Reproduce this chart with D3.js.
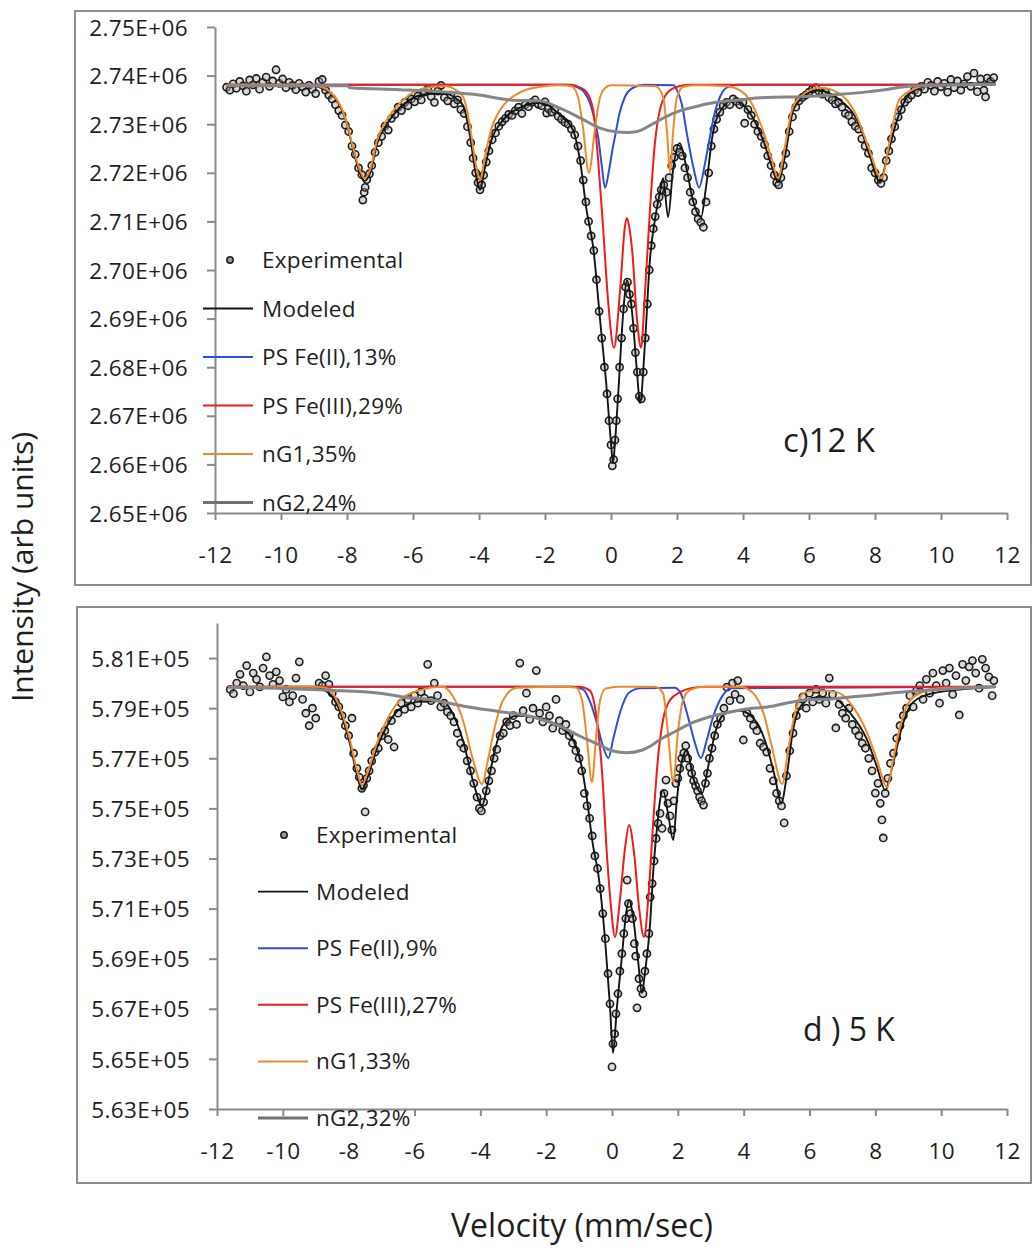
<!DOCTYPE html>
<html><head><meta charset="utf-8">
<script src="https://cdn.jsdelivr.net/npm/d3@7"></script>
<style>body{margin:0;background:#fff} text{font-family:"Open Sans",sans-serif;fill:#1e1e1e}</style>
</head><body><svg id="c" width="1033" height="1249"></svg>
<script>
// ---------- shared ----------
const velocityTicks = [-12,-10,-8,-6,-4,-2,0,2,4,6,8,10,12];
const velocityTickLabels = ["-12","-10","-8","-6","-4","-2","0","2","4","6","8","10","12"];
const seriesNames = ["Experimental","Modeled","PS Fe(II)","PS Fe(III)","nG1","nG2"];

// ---------- panel c) 12 K (intensity in units of 1E+06) ----------
const topYTicks = [2.65,2.66,2.67,2.68,2.69,2.70,2.71,2.72,2.73,2.74,2.75];
const topYTickLabels = ["2.65E+06","2.66E+06","2.67E+06","2.68E+06","2.69E+06","2.70E+06","2.71E+06","2.72E+06","2.73E+06","2.74E+06","2.75E+06"];
const topLegendLabels = ["Experimental","Modeled","PS Fe(II),13%","PS Fe(III),29%","nG1,35%","nG2,24%"];
const topTitle = "c)12 K";

const topExperimental = [
[-11.65,2.7376],[-11.55,2.7370],[-11.45,2.7383],[-11.35,2.7374],[-11.25,2.7388],[-11.15,2.7379],[-11.05,2.7368],[-10.95,2.7391],[-10.85,2.7381],[-10.75,2.7394],
[-10.65,2.7372],[-10.55,2.7386],[-10.45,2.7397],[-10.35,2.7378],[-10.25,2.7389],[-10.15,2.7412],[-10.05,2.7384],[-9.95,2.7393],[-9.85,2.7375],[-9.75,2.7386],
[-9.65,2.7380],[-9.55,2.7371],[-9.45,2.7384],[-9.35,2.7377],[-9.25,2.7366],[-9.15,2.7380],[-9.05,2.7372],[-8.95,2.7363],[-8.85,2.7388],[-8.75,2.7392],
[-8.65,2.7370],[-8.55,2.7360],[-8.45,2.7352],[-8.35,2.7340],[-8.25,2.7328],[-8.15,2.7318],[-8.05,2.7298],[-7.95,2.7285],[-7.85,2.7255],[-7.75,2.7238],
[-7.65,2.7210],[-7.55,2.7196],[-7.52,2.7144],[-7.48,2.7160],[-7.45,2.7170],[-7.4,2.7186],[-7.32,2.7198],[-7.25,2.7215],[-7.15,2.7242],[-7.05,2.7262],
[-6.95,2.7275],[-6.85,2.7296],[-6.75,2.7288],[-6.65,2.7312],[-6.55,2.7320],[-6.45,2.7335],[-6.35,2.7328],[-6.25,2.7345],[-6.15,2.7338],[-6.05,2.7352],
[-5.95,2.7346],[-5.85,2.7358],[-5.75,2.7350],[-5.65,2.7366],[-5.55,2.7372],[-5.45,2.7357],[-5.35,2.7345],[-5.25,2.7368],[-5.15,2.7380],[-5.05,2.7355],
[-4.95,2.7348],[-4.85,2.7360],[-4.75,2.7342],[-4.65,2.7350],[-4.55,2.7330],[-4.45,2.7322],[-4.35,2.7295],[-4.25,2.7262],[-4.18,2.7230],[-4.1,2.7200],
[-4.03,2.7180],[-3.97,2.7165],[-3.92,2.7175],[-3.86,2.7195],[-3.78,2.7222],[-3.7,2.7245],[-3.6,2.7268],[-3.5,2.7282],[-3.4,2.7296],[-3.3,2.7305],
[-3.2,2.7312],[-3.1,2.7320],[-3.0,2.7318],[-2.9,2.7328],[-2.8,2.7335],[-2.7,2.7322],[-2.6,2.7340],[-2.5,2.7336],[-2.4,2.7345],[-2.3,2.7350],
[-2.2,2.7341],[-2.1,2.7338],[-2.0,2.7346],[-1.95,2.7323],[-1.9,2.7332],[-1.8,2.7325],[-1.7,2.7330],[-1.6,2.7316],[-1.5,2.7310],[-1.4,2.7304],
[-1.3,2.7300],[-1.2,2.7290],[-1.1,2.7278],[-1.0,2.7255],[-0.92,2.7225],[-0.84,2.7185],[-0.76,2.7140],[-0.68,2.7100],[-0.6,2.7070],[-0.52,2.7040],
[-0.44,2.6980],[-0.36,2.6915],[-0.28,2.6860],[-0.2,2.6800],[-0.12,2.6745],[-0.06,2.6690],[0.0,2.6640],[0.04,2.6597],[0.08,2.6610],[0.12,2.6650],
[0.16,2.6690],[0.2,2.6735],[0.26,2.6800],[0.32,2.6860],[0.38,2.6920],[0.44,2.6965],[0.5,2.6975],[0.56,2.6950],[0.62,2.6930],[0.68,2.6880],
[0.74,2.6830],[0.8,2.6790],[0.86,2.6740],[0.92,2.6735],[0.98,2.6790],[1.04,2.6860],[1.1,2.6930],[1.16,2.7000],[1.22,2.7050],[1.28,2.7085],
[1.34,2.7110],[1.4,2.7135],[1.46,2.7150],[1.52,2.7165],[1.6,2.7175],[1.68,2.7160],[1.76,2.7190],[1.84,2.7215],[1.92,2.7232],[2.0,2.7250],
[2.08,2.7242],[2.16,2.7235],[2.24,2.7210],[2.32,2.7190],[2.4,2.7160],[2.48,2.7140],[2.56,2.7120],[2.64,2.7105],[2.72,2.7098],[2.8,2.7088],
[2.88,2.7140],[2.96,2.7200],[3.04,2.7255],[3.12,2.7290],[3.2,2.7310],[3.3,2.7325],[3.4,2.7338],[3.5,2.7345],[3.6,2.7340],[3.7,2.7352],
[3.8,2.7347],[3.9,2.7340],[4.0,2.7345],[4.05,2.7302],[4.15,2.7330],[4.25,2.7318],[4.35,2.7300],[4.45,2.7285],[4.55,2.7275],[4.65,2.7258],
[4.75,2.7235],[4.85,2.7215],[4.95,2.7195],[5.02,2.7180],[5.08,2.7175],[5.15,2.7190],[5.22,2.7215],[5.3,2.7240],[5.4,2.7285],[5.5,2.7315],
[5.6,2.7335],[5.7,2.7348],[5.8,2.7355],[5.9,2.7360],[6.0,2.7366],[6.1,2.7372],[6.2,2.7375],[6.3,2.7368],[6.4,2.7362],[6.5,2.7366],
[6.6,2.7355],[6.7,2.7350],[6.8,2.7342],[6.9,2.7345],[7.0,2.7335],[7.1,2.7322],[7.2,2.7318],[7.3,2.7305],[7.4,2.7296],[7.5,2.7290],
[7.6,2.7270],[7.7,2.7255],[7.8,2.7240],[7.9,2.7210],[8.0,2.7200],[8.1,2.7185],[8.18,2.7178],[8.26,2.7190],[8.34,2.7225],[8.42,2.7245],
[8.5,2.7270],[8.6,2.7295],[8.7,2.7315],[8.8,2.7330],[8.9,2.7345],[9.0,2.7352],[9.1,2.7360],[9.2,2.7370],[9.3,2.7365],[9.4,2.7378],
[9.5,2.7372],[9.6,2.7386],[9.7,2.7380],[9.8,2.7368],[9.9,2.7388],[10.0,2.7377],[10.1,2.7384],[10.2,2.7366],[10.3,2.7392],[10.4,2.7375],
[10.5,2.7389],[10.6,2.7370],[10.7,2.7383],[10.8,2.7398],[10.9,2.7378],[11.0,2.7405],[11.1,2.7367],[11.2,2.7393],[11.3,2.7370],[11.35,2.7356],
[11.4,2.7395],[11.5,2.7388],[11.6,2.7396]
];
const topModeled = [
[-11.65,2.7379],[-9.0,2.7379],[-8.8,2.7375],[-8.3,2.7348],[-8.0,2.7300],[-7.82,2.7249],[-7.61,2.7200],[-7.48,2.7183],[-7.30,2.7199],[-7.09,2.7260],
[-6.79,2.7300],[-6.3,2.7340],[-5.58,2.7362],[-5.0,2.7363],[-4.7,2.7353],[-4.48,2.7338],[-4.27,2.7275],[-4.12,2.7206],[-3.97,2.7165],[-3.82,2.7211],
[-3.61,2.7270],[-3.36,2.7301],[-2.85,2.7331],[-2.15,2.7344],[-1.55,2.7319],[-1.15,2.7288],[-0.94,2.7226],[-0.74,2.7123],[-0.54,2.7047],[-0.33,2.6897],
[-0.12,2.6747],[0.0,2.6644],[0.06,2.6603],[0.12,2.6644],[0.22,2.6747],[0.37,2.6912],[0.48,2.6979],[0.64,2.6912],[0.79,2.6788],[0.88,2.6726],
[1.03,2.6850],[1.18,2.7021],[1.33,2.7103],[1.48,2.7158],[1.58,2.7189],[1.73,2.7109],[1.88,2.7206],[2.08,2.7261],[2.28,2.7212],[2.48,2.7144],
[2.73,2.7109],[2.88,2.7171],[3.09,2.7282],[3.39,2.7335],[3.7,2.7350],[4.21,2.7323],[4.61,2.7267],[4.88,2.7212],[5.06,2.7181],[5.27,2.7233],
[5.52,2.7329],[5.82,2.7356],[6.24,2.7370],[6.94,2.7350],[7.55,2.7294],[7.85,2.7233],[8.15,2.7181],[8.39,2.7240],[8.67,2.7309],[8.97,2.7356],
[9.36,2.7375],[9.76,2.7381],[11.65,2.7385]
];
const topFe2 = [
[-11.65,2.7381],[-1.3,2.7381],[-1.0,2.7375],[-0.8,2.7365],[-0.64,2.7344],[-0.5,2.7310],[-0.39,2.7274],[-0.28,2.7215],[-0.18,2.7169],[-0.06,2.7205],
[0.05,2.7250],[0.12,2.7274],[0.25,2.7320],[0.42,2.7356],[0.67,2.7375],[1.0,2.7381],[1.9,2.7380],[2.0,2.7370],[2.15,2.7340],[2.3,2.7280],
[2.5,2.7210],[2.67,2.7170],[2.85,2.7220],[3.0,2.7275],[3.15,2.7325],[3.3,2.7356],[3.5,2.7375],[3.8,2.7381],[11.65,2.7381]
];
const topFe3 = [
[-11.65,2.7381],[-1.2,2.7381],[-0.95,2.7376],[-0.74,2.7366],[-0.54,2.7329],[-0.39,2.7226],[-0.24,2.7088],[-0.09,2.6938],[0.09,2.6840],[0.27,2.6953],
[0.42,2.7088],[0.48,2.7107],[0.56,2.7085],[0.64,2.7041],[0.79,2.6897],[0.91,2.6840],[1.03,2.6953],[1.18,2.7123],[1.33,2.7261],[1.48,2.7329],
[1.70,2.7364],[2.0,2.7377],[2.4,2.7381],[11.65,2.7381]
];
const topNG1 = [
[-11.65,2.7381],[-9.2,2.7381],[-8.8,2.7377],[-8.3,2.7350],[-8.0,2.7302],[-7.82,2.7253],[-7.61,2.7206],[-7.48,2.7189],[-7.30,2.7206],[-7.09,2.7267],
[-6.79,2.7309],[-6.3,2.7350],[-5.58,2.7375],[-5.0,2.7378],[-4.7,2.7370],[-4.48,2.7356],[-4.27,2.7294],[-4.12,2.7226],[-3.97,2.7185],[-3.82,2.7233],
[-3.61,2.7294],[-3.36,2.7329],[-2.85,2.7362],[-2.15,2.7377],[-1.5,2.7380],[-1.2,2.7378],[-1.0,2.7356],[-0.85,2.7294],[-0.67,2.7200],[-0.48,2.7294],
[-0.33,2.7356],[-0.15,2.7376],[0.0,2.7380],[1.35,2.7378],[1.58,2.7356],[1.70,2.7282],[1.79,2.7200],[1.88,2.7282],[2.0,2.7356],[2.2,2.7377],
[2.6,2.7380],[3.5,2.7378],[3.9,2.7370],[4.2,2.7350],[4.6,2.7288],[4.85,2.7233],[5.06,2.7189],[5.27,2.7253],[5.48,2.7329],[5.73,2.7356],
[6.33,2.7375],[6.9,2.7364],[7.4,2.7323],[7.8,2.7253],[8.2,2.7189],[8.45,2.7267],[8.73,2.7350],[9.12,2.7370],[9.73,2.7381],[11.65,2.7381]
];
const topNG2 = [
[-11.65,2.7379],[-8.0,2.7379],[-7.9,2.7375],[-6.4,2.7371],[-5.0,2.7366],[-4.0,2.7360],[-3.06,2.7350],[-2.15,2.7348],[-1.55,2.7333],[-0.94,2.7313],
[-0.33,2.7292],[0.18,2.7284],[0.5,2.7283],[0.79,2.7285],[1.3,2.7302],[1.9,2.7323],[2.5,2.7335],[3.1,2.7344],[3.9,2.7350],[4.7,2.7355],
[5.9,2.7357],[6.8,2.7361],[7.7,2.7366],[8.3,2.7371],[8.9,2.7377],[10.0,2.7380],[11.65,2.7383]
];

// ---------- panel d) 5 K (intensity in units of 1E+05) ----------
const botYTicks = [5.63,5.65,5.67,5.69,5.71,5.73,5.75,5.77,5.79,5.81];
const botYTickLabels = ["5.63E+05","5.65E+05","5.67E+05","5.69E+05","5.71E+05","5.73E+05","5.75E+05","5.77E+05","5.79E+05","5.81E+05"];
const botLegendLabels = ["Experimental","Modeled","PS Fe(II),9%","PS Fe(III),27%","nG1,33%","nG2,32%"];
const botTitle = "d ) 5 K";

const botExperimental = [
[-11.6,5.7975],[-11.5,5.7958],[-11.4,5.8000],[-11.3,5.8035],[-11.2,5.7990],[-11.1,5.8070],[-11.0,5.7965],[-10.9,5.8040],[-10.8,5.8015],[-10.7,5.7985],
[-10.6,5.8060],[-10.5,5.8105],[-10.4,5.8030],[-10.3,5.7995],[-10.2,5.8045],[-10.1,5.8010],[-10.0,5.7945],[-9.9,5.7975],[-9.8,5.7925],[-9.7,5.7950],
[-9.6,5.8020],[-9.5,5.8085],[-9.4,5.7935],[-9.3,5.7880],[-9.2,5.7830],[-9.1,5.7900],[-9.0,5.7860],[-8.9,5.8000],[-8.8,5.7990],[-8.7,5.8030],
[-8.6,5.7995],[-8.5,5.7960],[-8.4,5.7925],[-8.3,5.7905],[-8.2,5.7870],[-8.1,5.7830],[-8.0,5.7790],[-7.9,5.7860],[-7.85,5.7720],[-7.75,5.7660],
[-7.68,5.7625],[-7.6,5.7580],[-7.55,5.7592],[-7.5,5.7486],[-7.45,5.7620],[-7.38,5.7650],[-7.3,5.7690],[-7.2,5.7725],[-7.1,5.7740],[-7.0,5.7790],
[-6.9,5.7810],[-6.8,5.7775],[-6.7,5.7850],[-6.62,5.7745],[-6.5,5.7880],[-6.4,5.7920],[-6.3,5.7895],[-6.2,5.7935],[-6.1,5.7905],[-6.0,5.7950],
[-5.9,5.7920],[-5.8,5.7965],[-5.7,5.7940],[-5.6,5.8075],[-5.5,5.7930],[-5.4,5.8000],[-5.3,5.7950],[-5.2,5.7905],[-5.1,5.7920],[-5.0,5.7885],
[-4.9,5.7870],[-4.8,5.7845],[-4.7,5.7800],[-4.6,5.7760],[-4.5,5.7740],[-4.4,5.7690],[-4.3,5.7650],[-4.2,5.7600],[-4.1,5.7545],[-4.03,5.7500],
[-3.97,5.7490],[-3.9,5.7525],[-3.82,5.7570],[-3.74,5.7610],[-3.66,5.7650],[-3.58,5.7700],[-3.5,5.7735],[-3.4,5.7790],[-3.3,5.7800],[-3.2,5.7845],
[-3.1,5.7830],[-3.0,5.7870],[-2.9,5.7835],[-2.8,5.8080],[-2.7,5.7890],[-2.6,5.7960],[-2.5,5.7855],[-2.4,5.7900],[-2.3,5.8050],[-2.2,5.7880],
[-2.1,5.7845],[-2.0,5.7905],[-1.9,5.7870],[-1.8,5.7820],[-1.7,5.7935],[-1.6,5.7850],[-1.5,5.7810],[-1.4,5.7835],[-1.3,5.7790],[-1.2,5.7760],
[-1.1,5.7730],[-1.0,5.7700],[-0.92,5.7650],[-0.84,5.7560],[-0.76,5.7510],[-0.68,5.7460],[-0.6,5.7390],[-0.52,5.7310],[-0.44,5.7260],[-0.36,5.7180],
[-0.28,5.7080],[-0.2,5.6980],[-0.12,5.6840],[-0.06,5.6720],[0.0,5.6468],[0.03,5.6560],[0.08,5.6600],[0.12,5.6680],[0.18,5.6760],[0.24,5.6850],
[0.3,5.6920],[0.36,5.7000],[0.42,5.7060],[0.46,5.7214],[0.5,5.7120],[0.56,5.7080],[0.62,5.7060],[0.68,5.6960],[0.72,5.6910],[0.76,5.6704],
[0.82,5.6820],[0.88,5.6780],[0.94,5.6760],[1.0,5.6850],[1.06,5.6920],[1.12,5.7000],[1.16,5.7146],[1.22,5.7200],[1.28,5.7290],[1.34,5.7380],
[1.4,5.7440],[1.46,5.7480],[1.52,5.7420],[1.58,5.7560],[1.64,5.7613],[1.7,5.7520],[1.76,5.7470],[1.82,5.7414],[1.88,5.7530],[1.94,5.7600],
[2.0,5.7620],[2.06,5.7660],[2.12,5.7700],[2.18,5.7721],[2.24,5.7750],[2.3,5.7700],[2.36,5.7665],[2.42,5.7640],[2.48,5.7610],[2.54,5.7590],
[2.6,5.7570],[2.66,5.7545],[2.72,5.7530],[2.78,5.7513],[2.84,5.7600],[2.9,5.7640],[2.96,5.7700],[3.04,5.7740],[3.12,5.7790],[3.2,5.7835],
[3.3,5.7860],[3.4,5.7900],[3.49,5.7984],[3.58,5.7930],[3.66,5.8000],[3.74,5.7955],[3.82,5.8010],[3.9,5.7935],[3.99,5.7773],[4.1,5.7880],
[4.2,5.7860],[4.3,5.7830],[4.4,5.7810],[4.5,5.7760],[4.6,5.7745],[4.7,5.7725],[4.8,5.7660],[4.9,5.7610],[5.0,5.7560],[5.08,5.7530],
[5.15,5.7510],[5.23,5.7442],[5.3,5.7630],[5.4,5.7730],[5.5,5.7800],[5.6,5.7870],[5.7,5.7910],[5.8,5.7945],[5.9,5.7900],[6.0,5.7960],
[6.1,5.7925],[6.2,5.7975],[6.3,5.7935],[6.4,5.7960],[6.5,5.7920],[6.6,5.8020],[6.7,5.7955],[6.8,5.7821],[6.9,5.7915],[7.0,5.7880],
[7.1,5.7860],[7.2,5.7900],[7.3,5.7835],[7.4,5.7810],[7.5,5.7790],[7.6,5.7760],[7.7,5.7740],[7.8,5.7700],[7.9,5.7650],[8.0,5.7561],
[8.08,5.7600],[8.15,5.7520],[8.2,5.7454],[8.24,5.7382],[8.3,5.7560],[8.38,5.7620],[8.46,5.7680],[8.55,5.7720],[8.65,5.7780],[8.75,5.7830],
[8.85,5.7870],[8.95,5.7900],[9.05,5.7950],[9.15,5.7905],[9.25,5.7970],[9.35,5.7990],[9.45,5.7935],[9.55,5.8015],[9.65,5.7960],[9.75,5.8040],
[9.85,5.7990],[9.95,5.7920],[10.05,5.8050],[10.15,5.8000],[10.25,5.8060],[10.35,5.7955],[10.45,5.8030],[10.55,5.7873],[10.65,5.8075],[10.75,5.8010],
[10.85,5.8065],[10.95,5.8090],[11.05,5.8040],[11.15,5.7980],[11.25,5.8095],[11.35,5.8060],[11.45,5.8025],[11.55,5.7950],[11.6,5.8010]
];
const botModeled = [
[-11.65,5.7984],[-9.0,5.7980],[-8.66,5.7966],[-8.27,5.7890],[-7.96,5.7757],[-7.75,5.7636],[-7.6,5.7575],[-7.42,5.7627],[-7.14,5.7741],[-6.84,5.7828],
[-6.44,5.7898],[-5.84,5.7926],[-5.14,5.7928],[-4.92,5.7898],[-4.53,5.7772],[-4.22,5.7609],[-3.95,5.7511],[-3.77,5.7602],[-3.56,5.7731],[-3.31,5.7832],
[-2.89,5.7870],[-2.4,5.7865],[-2.19,5.7860],[-1.58,5.7825],[-1.18,5.7773],[-0.92,5.7665],[-0.77,5.7545],[-0.57,5.7346],[-0.42,5.7242],[-0.21,5.6975],
[-0.06,5.6708],[0.03,5.6524],[0.15,5.6708],[0.3,5.6907],[0.43,5.7083],[0.52,5.7134],[0.64,5.7067],[0.79,5.6895],[0.91,5.6763],[1.0,5.6843],
[1.16,5.7043],[1.25,5.7242],[1.37,5.7426],[1.46,5.7533],[1.55,5.7573],[1.70,5.7481],[1.86,5.7374],[1.97,5.7533],[2.13,5.7693],[2.28,5.7733],
[2.46,5.7625],[2.74,5.7561],[2.92,5.7665],[3.13,5.7801],[3.37,5.7873],[3.5,5.7881],[3.89,5.7890],[4.41,5.7841],[4.71,5.7745],[4.95,5.7625],
[5.14,5.7521],[5.32,5.7641],[5.5,5.7813],[5.81,5.7920],[6.23,5.7944],[6.72,5.7940],[7.23,5.7881],[7.75,5.7773],[8.05,5.7665],[8.3,5.7573],
[8.54,5.7680],[8.81,5.7825],[9.15,5.7924],[9.76,5.7960],[11.65,5.7984]
];
const botFe2 = [
[-11.65,5.7986],[-1.2,5.7986],[-0.88,5.7975],[-0.65,5.7920],[-0.46,5.7841],[-0.3,5.7760],[-0.11,5.7701],[0.03,5.7773],[0.24,5.7881],[0.5,5.7960],
[0.85,5.7980],[1.9,5.7982],[2.07,5.7964],[2.31,5.7865],[2.52,5.7761],[2.7,5.7701],[2.88,5.7773],[3.07,5.7865],[3.37,5.7952],[3.6,5.7980],[11.65,5.7986]
];
const botFe3 = [
[-11.65,5.7986],[-1.0,5.7986],[-0.67,5.7970],[-0.46,5.7853],[-0.30,5.7641],[-0.15,5.7306],[-0.03,5.7107],[0.09,5.6987],[0.24,5.7134],[0.40,5.7346],
[0.52,5.7434],[0.67,5.7322],[0.82,5.7107],[0.97,5.6987],[1.12,5.7174],[1.25,5.7442],[1.40,5.7705],[1.55,5.7853],[1.76,5.7932],[2.07,5.7964],
[2.4,5.7980],[2.8,5.7986],[11.65,5.7986]
];
const botNG1 = [
[-11.65,5.7986],[-9.0,5.7986],[-8.66,5.7980],[-8.27,5.7904],[-7.96,5.7773],[-7.75,5.7653],[-7.6,5.7593],[-7.42,5.7645],[-7.14,5.7761],[-6.84,5.7853],
[-6.44,5.7932],[-5.84,5.7972],[-5.14,5.7986],[-4.92,5.7964],[-4.53,5.7853],[-4.22,5.7693],[-3.95,5.7597],[-3.77,5.7693],[-3.56,5.7825],[-3.31,5.7932],
[-2.89,5.7982],[-1.5,5.7986],[-1.1,5.7982],[-0.91,5.7932],[-0.76,5.7773],[-0.61,5.7605],[-0.48,5.7790],[-0.36,5.7932],[-0.2,5.7978],[0.2,5.7986],
[1.3,5.7986],[1.55,5.7960],[1.70,5.7801],[1.86,5.7605],[2.0,5.7801],[2.16,5.7932],[2.37,5.7972],[2.8,5.7986],[3.89,5.7986],[4.29,5.7960],
[4.6,5.7881],[4.86,5.7745],[5.17,5.7597],[5.35,5.7733],[5.56,5.7881],[5.81,5.7960],[6.23,5.7972],[6.84,5.7964],[7.33,5.7904],[7.75,5.7801],
[8.05,5.7693],[8.36,5.7585],[8.54,5.7693],[8.75,5.7825],[9.06,5.7932],[9.45,5.7964],[9.97,5.7980],[11.65,5.7986]
];
const botNG2 = [
[-11.65,5.7984],[-8.66,5.7972],[-7.05,5.7960],[-6.4,5.7946],[-5.44,5.7932],[-4.41,5.7906],[-3.4,5.7886],[-2.4,5.7865],[-1.58,5.7828],[-0.97,5.7788],
[-0.36,5.7752],[0.0,5.7730],[0.45,5.7722],[0.9,5.7732],[1.16,5.7748],[1.46,5.7775],[1.86,5.7803],[2.5,5.7845],[3.4,5.7880],[4.0,5.7895],
[4.71,5.7905],[5.71,5.7930],[6.72,5.7938],[7.7,5.7950],[8.75,5.7964],[10.0,5.7976],[11.65,5.7986]
];

// ---------- styles ----------
const colors = {model:"#141414", fe2:"#2b4fd8", fe3:"#f01c1c", ng1:"#ee8a2c", ng2:"#868686", marker:"#1c1c1c", axis:"#8a8a8a"};
const widths = {model:1.9, fe2:2, fe3:2, ng1:2, ng2:3};

const svg = d3.select("#c");
svg.append("rect").attr("width",1033).attr("height",1249).attr("fill","#fff");

function drawPanel(cfg){
  const g = svg.append("g");
  g.append("rect").attr("x",cfg.box[0]).attr("y",cfg.box[1]).attr("width",cfg.box[2]).attr("height",cfg.box[3])
    .attr("fill","none").attr("stroke","#8f8f8f").attr("stroke-width",2);
  const x = d3.scaleLinear().domain([-12,12]).range(cfg.xRange);
  const y = d3.scaleLinear().domain(cfg.yDomain).range(cfg.yRange);

  const ya = g.append("g").attr("transform",`translate(${cfg.xRange[0]},0)`)
    .call(d3.axisLeft(y).tickValues(cfg.yTicks).tickFormat((d,i)=>cfg.yLabels[i]).tickSize(8).tickSizeOuter(0).tickPadding(19));
  const xa = g.append("g").attr("transform",`translate(0,${cfg.yRange[0]})`)
    .call(d3.axisBottom(x).tickValues(velocityTicks).tickFormat((d,i)=>velocityTickLabels[i]).tickSize(7).tickSizeOuter(0).tickPadding(27));
  [ya,xa].forEach(a=>{
    a.select(".domain").attr("stroke",colors.axis).attr("stroke-width",2);
    a.selectAll(".tick line").attr("stroke",colors.axis).attr("stroke-width",2);
    a.selectAll(".tick text").attr("font-family","Open Sans").attr("font-size",22.5).attr("letter-spacing","0.4px").attr("fill","#1a1a1a");
  });
  ya.selectAll(".tick text").attr("dy","0.36em");

  // experimental points
  g.append("g").selectAll("circle").data(cfg.exp).join("circle")
    .attr("cx",d=>x(d[0])).attr("cy",d=>y(d[1])).attr("r",3.6)
    .attr("fill","#a8a8a8").attr("fill-opacity",0.45).attr("stroke",colors.marker).attr("stroke-width",1.6);

  const line = d3.line().x(d=>x(d[0])).y(d=>y(d[1])).curve(d3.curveMonotoneX);
  const series = [
    {d:cfg.model,c:colors.model,w:widths.model},
    {d:cfg.fe2,c:colors.fe2,w:widths.fe2},
    {d:cfg.fe3,c:colors.fe3,w:widths.fe3},
    {d:cfg.ng1,c:colors.ng1,w:widths.ng1},
    {d:cfg.ng2,c:colors.ng2,w:widths.ng2}
  ];
  series.forEach(s=>{
    g.append("path").datum(s.d).attr("d",line).attr("fill","none").attr("stroke",s.c).attr("stroke-width",s.w)
      .attr("stroke-linejoin","round");
  });

  // legend
  const L = cfg.legend;
  const legColors = [null,colors.model,colors.fe2,colors.fe3,colors.ng1,"#707070"];
  const legW = [0,1.9,2,2,2,3];
  cfg.legendLabels.forEach((lab,i)=>{
    const by = L.base + i*L.step;
    if(i===0){
      g.append("circle").attr("cx",L.marker).attr("cy",by-8).attr("r",3.2)
        .attr("fill","#999").attr("stroke",colors.marker).attr("stroke-width",1.5);
    } else {
      g.append("line").attr("x1",L.x0).attr("x2",L.x1).attr("y1",by-8).attr("y2",by-8)
        .attr("stroke",legColors[i]).attr("stroke-width",legW[i]);
    }
    g.append("text").attr("x",L.tx).attr("y",by).attr("font-size",22.5).attr("letter-spacing","0.2px").text(lab);
  });

  g.append("text").attr("x",cfg.title.x).attr("y",cfg.title.y).attr("font-size",cfg.title.s).text(cfg.title.t);
}

drawPanel({
  box:[75,11,956,574], xRange:[215,1007], yRange:[513,27], yDomain:[2.65,2.75],
  yTicks:topYTicks, yLabels:topYTickLabels,
  exp:topExperimental, model:topModeled, fe2:topFe2, fe3:topFe3, ng1:topNG1, ng2:topNG2,
  legendLabels:topLegendLabels,
  legend:{marker:230, x0:203, x1:253, tx:262, base:268, step:48.5},
  title:{t:topTitle, x:783, y:452, s:33}
});
drawPanel({
  box:[77,607,954,576], xRange:[217,1007], yRange:[1109,623], yDomain:[5.63,5.824],
  yTicks:botYTicks, yLabels:botYTickLabels,
  exp:botExperimental, model:botModeled, fe2:botFe2, fe3:botFe3, ng1:botNG1, ng2:botNG2,
  legendLabels:botLegendLabels,
  legend:{marker:284, x0:258, x1:308, tx:316, base:843, step:56.6},
  title:{t:botTitle, x:803, y:1041, s:32}
});

svg.append("text").attr("x",582).attr("y",1237).attr("text-anchor","middle").attr("font-size",32).text("Velocity (mm/sec)");
svg.append("text").attr("transform","translate(33,567) rotate(-90)").attr("text-anchor","middle").attr("font-size",30).text("Intensity  (arb units)");
</script></body></html>
